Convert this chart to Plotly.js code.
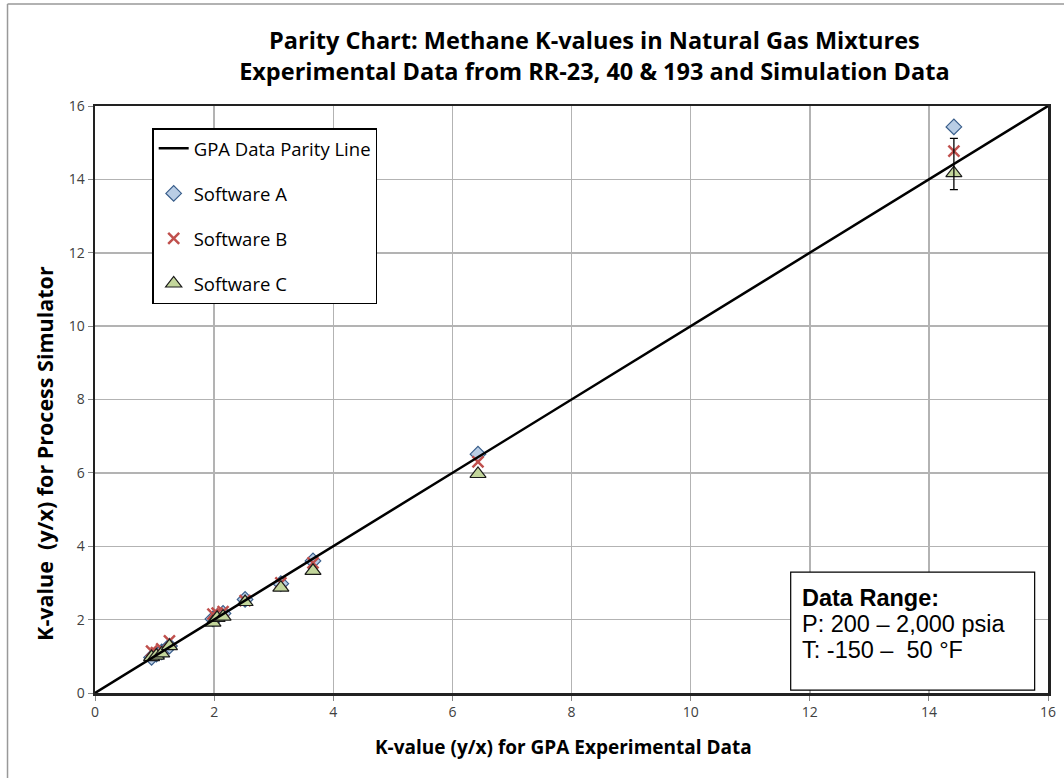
<!DOCTYPE html>
<html>
<head>
<meta charset="utf-8">
<script src="https://cdn.plot.ly/plotly-3.0.1.min.js"></script>
<style>html,body{margin:0;padding:0;background:#fff;}#chart{width:1064px;height:778px;}</style>
</head>
<body>
<div id="chart"></div>
<script>
// GPA experimental K-values (x axis)
const gpaK = [0.95, 1.03, 1.12, 1.25, 1.98, 2.05, 2.15, 2.52, 3.12, 3.66, 6.43, 14.42];
// Simulator K-values
const softwareA = [0.97, 1.06, 1.12, 1.28, 2.02, 2.08, 2.17, 2.55, 2.98, 3.60, 6.51, 15.43];
const softwareB = [1.14, 1.10, 1.20, 1.42, 2.15, 2.18, 2.22, 2.52, 3.00, 3.55, 6.30, 14.77];
const softwareC = [0.98, 1.02, 1.08, 1.28, 1.92, 2.05, 2.08, 2.48, 2.87, 3.33, 5.97, 14.17];
// Parity line end points
const parityX = [0, 16];
const parityY = [0, 16];
// Experimental uncertainty shown at the highest point
const errPointX = [14.42];
const errPointY = [14.42];
const errPlusMinus = [0.70];
const tickVals = [0, 2, 4, 6, 8, 10, 12, 14, 16];
// Text
const xTitle = '<b>K-value (y/x) for GPA Experimental Data</b>';
const yTitle = '<b>K-value  (y/x) for Process Simulator</b>';
const noteLines = ['<b>Data Range:</b>', 'P: 200 – 2,000 psia', 'T: -150 –  50 °F'];
const noteY = [0.162, 0.118, 0.074];

const traces = [
  {x: gpaK, y: softwareA, mode: 'markers', type: 'scatter', name: 'Software A', legendrank: 2,
   legendgroup: 'a',
   marker: {symbol: 'diamond', size: 12, color: '#B9CDE5', line: {color: '#385D8A', width: 1.2}}},
  {x: gpaK, y: softwareB, mode: 'markers', type: 'scatter', name: 'Software B', legendrank: 3,
   legendgroup: 'b',
   marker: {symbol: 'x-thin', size: 11, color: '#C0504D', line: {color: '#C0504D', width: 2.5}}},
  {x: gpaK, y: softwareC, mode: 'markers', type: 'scatter', name: 'Software C', legendrank: 4,
   legendgroup: 'c',
   marker: {symbol: 'triangle-up', size: 14, color: '#C3D69B', line: {color: '#1a1a1a', width: 1.2}}},
  {x: errPointX, y: errPointY, mode: 'markers', type: 'scatter', showlegend: false, hoverinfo: 'skip',
   marker: {size: 1, color: 'rgba(0,0,0,0)'},
   error_y: {type: 'data', array: errPlusMinus, visible: true, color: '#000', thickness: 1.3, width: 4}},
  {x: parityX, y: parityY, mode: 'lines', type: 'scatter', name: 'GPA Data Parity Line', legendrank: 1,
   legendgroup: 'p',
   line: {color: '#000', width: 2.5}}
];

const annotations = noteLines.map((t, i) => ({
  xref: 'paper', yref: 'paper', x: 0.740, y: noteY[i], xanchor: 'left', yanchor: 'middle',
  text: t, showarrow: false, align: 'left',
  font: {family: '"Liberation Sans", Arial, sans-serif', size: 23.5, color: '#000'}
}));
annotations.push({
  xref: 'paper', yref: 'paper', x: 0.492, y: -0.092, xanchor: 'center', yanchor: 'middle',
  text: xTitle, showarrow: false,
  font: {family: '"Open Sans", Lato, sans-serif', size: 19, color: '#000'}
});
annotations.push({
  xref: 'paper', yref: 'paper', x: -0.0525, y: 0.409, xanchor: 'center', yanchor: 'middle',
  text: yTitle, showarrow: false, textangle: -90,
  font: {family: '"Open Sans", Lato, sans-serif', size: 21.5, color: '#000'}
});

const layout = {
  width: 1064, height: 778,
  margin: {l: 95, r: 16, t: 106, b: 85},
  paper_bgcolor: '#fff', plot_bgcolor: '#fff',
  font: {family: '"Open Sans", Lato, sans-serif', color: '#404040'},
  title: {
    text: '<b>Parity Chart: Methane K-values in Natural Gas Mixtures<br>Experimental Data from RR-23, 40 &amp; 193 and Simulation Data</b>',
    font: {family: '"Open Sans", Lato, sans-serif', size: 23.5, color: '#000'},
    x: 0.524, xref: 'paper', xanchor: 'center', yref: 'container', y: 0.937, yanchor: 'top'
  },
  xaxis: {
    range: [0, 16], tickvals: tickVals, ticktext: tickVals.map(String),
    showgrid: true, gridcolor: '#b3b3b3', gridwidth: 1.5, zeroline: false,
    showline: true, mirror: true, linecolor: '#222', linewidth: 2.5,
    ticks: 'outside', ticklen: 5, tickcolor: '#888', tickwidth: 1,
    tickfont: {size: 14, color: '#404040'}
  },
  yaxis: {
    range: [0, 16], tickvals: tickVals, ticktext: tickVals.map(String),
    showgrid: true, gridcolor: '#b3b3b3', gridwidth: 1.5, zeroline: false,
    showline: true, mirror: true, linecolor: '#222', linewidth: 2.5,
    ticks: 'outside', ticklen: 5, tickcolor: '#888', tickwidth: 1,
    tickfont: {size: 14, color: '#404040'}
  },
  showlegend: true,
  legend: {
    x: 0.06, y: 0.962, xanchor: 'left', yanchor: 'top',
    bgcolor: '#fff', bordercolor: '#000', borderwidth: 1.5,
    font: {family: '"Open Sans", Lato, sans-serif', size: 18.5, color: '#000'},
    traceorder: 'grouped', tracegroupgap: 18, itemwidth: 30
  },
  annotations: annotations,
  shapes: [
    {type: 'rect', xref: 'paper', yref: 'paper', x0: 0.730, x1: 0.986, y0: 0.005, y1: 0.206,
     fillcolor: '#fff', line: {color: '#000', width: 1.2}, layer: 'above'},
    {type: 'line', xref: 'paper', yref: 'paper', x0: -0.0918, x1: -0.0918, y0: 1.1738, y1: -0.145,
     line: {color: '#999', width: 1.5}},
    {type: 'line', xref: 'paper', yref: 'paper', x0: -0.0918, x1: 1.02, y0: 1.1738, y1: 1.1738,
     line: {color: '#999', width: 1.5}}
  ]
};

Plotly.newPlot('chart', traces, layout, {displayModeBar: false, staticPlot: true});
</script>
</body>
</html>
